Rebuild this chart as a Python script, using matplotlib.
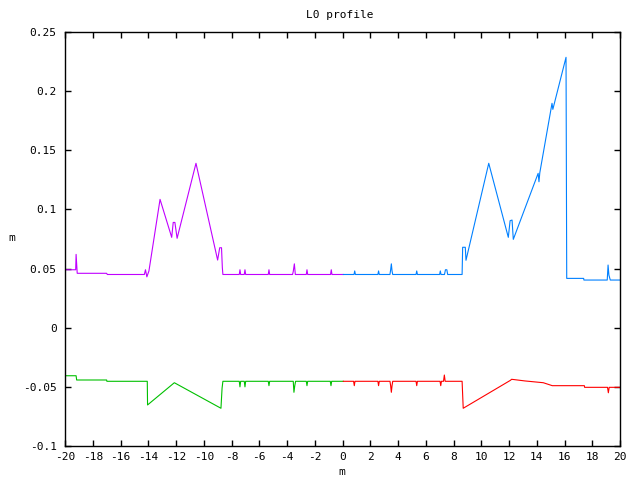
import matplotlib
matplotlib.use('Agg')
import matplotlib.pyplot as plt
from matplotlib.ticker import MultipleLocator

plt.rcParams['font.family'] = ['DejaVu Sans Mono']
plt.rcParams['font.size'] = 8

# upper profile, left half (magenta)
mag_x = [-20, -19.23, -19.2, -19.12, -17.0, -16.95, -14.28, -14.2, -14.1, -13.95,
         -13.15, -12.31, -12.2, -12.08, -11.92, -10.56, -9.0, -8.85, -8.72, -8.66,
         -8.62, -7.44, -7.39, -7.34, -7.08, -7.03, -6.98, -5.35, -5.3, -5.25,
         -3.6, -3.55, -3.47, -3.4, -2.61, -2.56, -2.51, -0.86, -0.81, -0.76, 0.06]
mag_y = [0.049, 0.049, 0.062, 0.046, 0.046, 0.045, 0.045, 0.049, 0.043, 0.048,
         0.1085, 0.0764, 0.089, 0.089, 0.0756, 0.139, 0.0572, 0.0676, 0.0676, 0.0507,
         0.045, 0.045, 0.049, 0.045, 0.045, 0.049, 0.045, 0.045, 0.049, 0.045,
         0.045, 0.0475, 0.054, 0.045, 0.045, 0.049, 0.045, 0.045, 0.049, 0.045, 0.045]

# upper profile, right half (blue)
blu_x = [0.06, 0.83, 0.88, 0.93, 2.55, 2.6, 2.65, 3.42, 3.47, 3.52, 3.57, 3.62,
         5.3, 5.35, 5.4, 7.0, 7.05, 7.1, 7.35, 7.42, 7.52, 7.58, 8.62, 8.66, 8.85,
         8.9, 10.54, 11.95, 12.08, 12.22, 12.31, 14.1, 14.16, 14.22, 15.1, 15.16,
         16.11, 16.16, 17.38, 17.4, 19.08, 19.14, 19.2, 19.3, 20]
blu_y = [0.045, 0.045, 0.048, 0.045, 0.045, 0.048, 0.045, 0.045, 0.049, 0.054, 0.048, 0.045,
         0.045, 0.048, 0.045, 0.045, 0.048, 0.045, 0.045, 0.049, 0.049, 0.045, 0.045, 0.068, 0.068,
         0.057, 0.139, 0.0764, 0.0905, 0.091, 0.0747, 0.1305, 0.1234, 0.131, 0.1897, 0.1846,
         0.2286, 0.0417, 0.0417, 0.0403, 0.0403, 0.053, 0.0445, 0.0403, 0.0403]

# lower profile, left half (green)
grn_x = [-20, -19.2, -19.16, -17.0, -16.98, -14.07, -14.05, -12.12, -8.76, -8.68,
         -8.62, -7.44, -7.39, -7.34, -7.08, -7.03, -6.98, -5.35, -5.3, -5.25,
         -3.55, -3.5, -3.44, -3.38, -2.61, -2.56, -2.51, -0.88, -0.83, -0.78, 0.06]
grn_y = [-0.0406, -0.0406, -0.0442, -0.0442, -0.0453, -0.0453, -0.0653, -0.0465, -0.0681, -0.0512,
         -0.0453, -0.0453, -0.05, -0.0453, -0.0453, -0.05, -0.0453, -0.0453, -0.049, -0.0453,
         -0.0453, -0.0546, -0.049, -0.0453, -0.0453, -0.049, -0.0453, -0.0453, -0.049, -0.0453, -0.0453]

# lower profile, right half (red)
red_x = [0.06, 0.8, 0.85, 0.9, 2.55, 2.6, 2.65, 3.42, 3.47, 3.52, 3.57, 3.62,
         5.3, 5.35, 5.4, 7.03, 7.08, 7.13, 7.28, 7.34, 7.4, 8.62, 8.7, 12.1,
         12.19, 13.15, 14.47, 15.12, 17.43, 17.45, 19.1, 19.16, 19.22, 20]
red_y = [-0.0453, -0.0453, -0.049, -0.0453, -0.0453, -0.049, -0.0453, -0.0453, -0.049, -0.0546, -0.049, -0.0453,
         -0.0453, -0.049, -0.0453, -0.0453, -0.049, -0.0453, -0.0453, -0.040, -0.0453, -0.0453, -0.0681, -0.0445,
         -0.0436, -0.045, -0.0465, -0.049, -0.049, -0.0504, -0.0504, -0.055, -0.0504, -0.0504]

fig = plt.figure(figsize=(6.4, 4.8), dpi=100)
ax = fig.add_axes([65 / 640, 1 - 446 / 480, 555 / 640, 414 / 480])

lw = 0.8
ax.plot(mag_x, mag_y, color='#c000ff', lw=lw)
ax.plot(blu_x, blu_y, color='#0080ff', lw=lw)
ax.plot(grn_x, grn_y, color='#00c000', lw=lw)
ax.plot(red_x, red_y, color='#ff0000', lw=lw)

ax.set_xlim(-20, 20)
ax.set_ylim(-0.1, 0.25)
ax.xaxis.set_major_locator(MultipleLocator(2))
ax.yaxis.set_major_locator(MultipleLocator(0.05))
ax.set_xticklabels([f'{v:g}' for v in ax.get_xticks()])
ax.set_yticklabels([f'{v:g}' for v in ax.get_yticks()])
ax.tick_params(direction='in', length=4.5, width=1, top=True, right=True)
ax.tick_params(axis='y', pad=6)
ax.tick_params(axis='x', pad=4)
for s in ax.spines.values():
    s.set_linewidth(1)

fig.text(340 / 640, 1 - 15 / 480, 'L0 profile', ha='center', va='center')
fig.text(342 / 640, 1 - 472 / 480, 'm', ha='center', va='center')
fig.text(12 / 640, 1 - 238 / 480, 'm', ha='center', va='center')

fig.savefig('out.png', dpi=100)
